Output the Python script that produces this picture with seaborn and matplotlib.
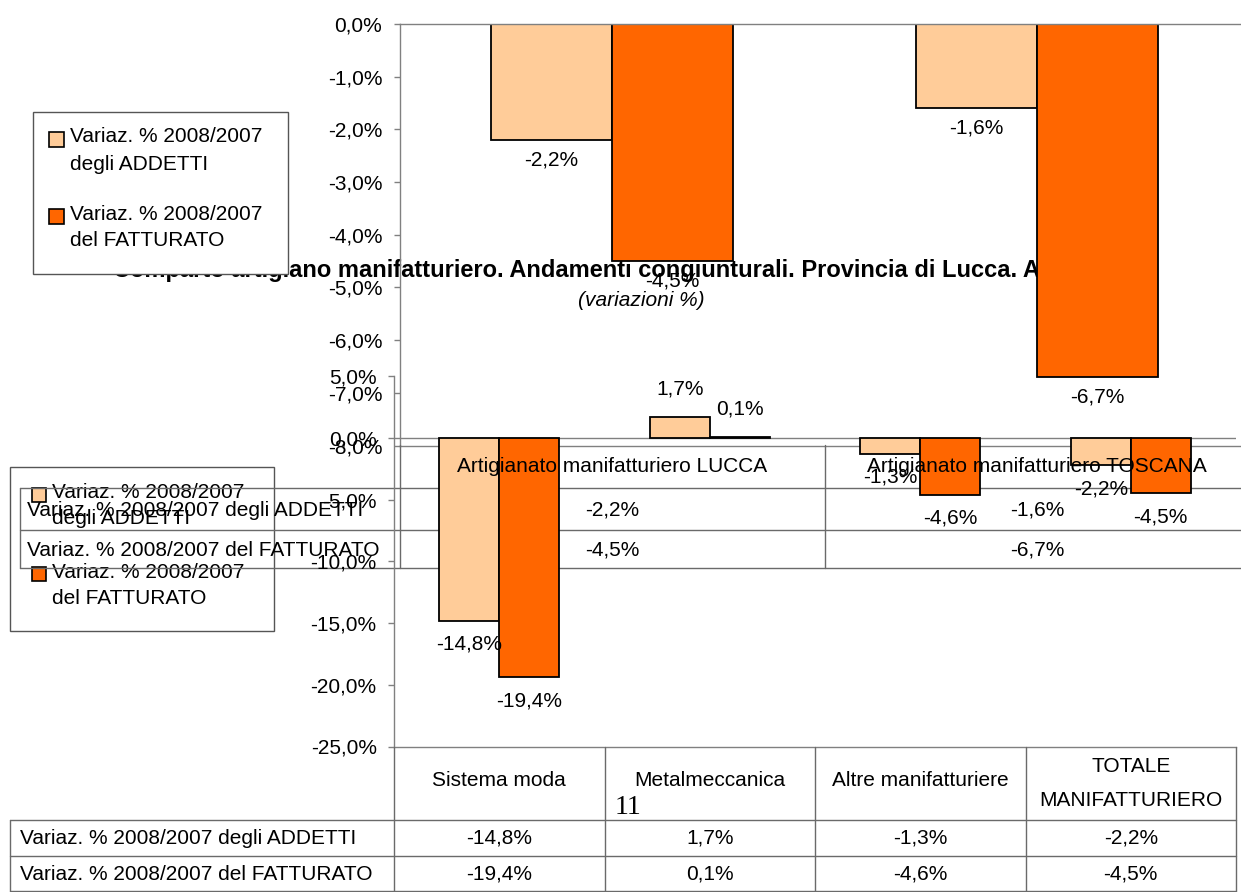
import matplotlib
matplotlib.use("Agg")
import matplotlib.pyplot as plt
import numpy as np
import pandas as pd
import seaborn as sns
from matplotlib.patches import Rectangle
from matplotlib.lines import Line2D

# ---------------- data ----------------
series = ["Variaz. % 2008/2007 degli ADDETTI", "Variaz. % 2008/2007 del FATTURATO"]
legend_labels = ["Variaz. % 2008/2007\ndegli ADDETTI", "Variaz. % 2008/2007\ndel FATTURATO"]

areas = ["Artigianato manifatturiero LUCCA", "Artigianato manifatturiero TOSCANA"]
areas_addetti = [-2.2, -1.6]
areas_fatturato = [-4.5, -6.7]

sectors = ["Sistema moda", "Metalmeccanica", "Altre manifatturiere", "TOTALE\nMANIFATTURIERO"]
sectors_addetti = [-14.8, 1.7, -1.3, -2.2]
sectors_fatturato = [-19.4, 0.1, -4.6, -4.5]

ticks_a = [0, -1, -2, -3, -4, -5, -6, -7, -8]
ticks_b = [5, 0, -5, -10, -15, -20, -25]

title = "Comparto artigiano manifatturiero. Andamenti congiunturali. Provincia di Lucca. Anno 2008"
subtitle = "(variazioni %)"
page_number = "11"

colors = ["#FFCC99", "#FF6600"]

# ---------------- style ----------------
sns.set_style("white")
plt.rcParams["font.family"] = ["Liberation Sans", "DejaVu Sans"]
plt.rcParams["text.color"] = "black"
plt.rcParams["axes.labelcolor"] = "black"
plt.rcParams["xtick.color"] = "black"
plt.rcParams["ytick.color"] = "black"
FS = 15
GRID = "#6a6a6a"
AXC = "#808080"

W, H = 1241, 892
fig = plt.figure(figsize=(W / 100, H / 100), dpi=100)
fig.patch.set_facecolor("white")


def fmt(v):
    v = round(v, 1)
    if v == 0:
        v = 0.0
    return f"{v:.1f}".replace(".", ",") + "%"


def px_axes(l, t, r, b, z):
    return fig.add_axes([l / W, 1 - b / H, (r - l) / W, (b - t) / H], zorder=z)


def overlay(z):
    ax = fig.add_axes([0, 0, 1, 1], zorder=z)
    ax.set_xlim(0, W)
    ax.set_ylim(H, 0)
    ax.axis("off")
    ax.patch.set_alpha(0)
    return ax


def hline(ax, y, x0, x1, color=GRID, lw=1.0):
    ax.add_line(Line2D([x0, x1], [y, y], color=color, lw=lw, clip_on=False))


def vline(ax, x, y0, y1, color=GRID, lw=1.0):
    ax.add_line(Line2D([x, x], [y0, y1], color=color, lw=lw, clip_on=False))


def legend(ax, box, sq_x, sq_tops, sq, text_x, line_ys, fill):
    x0, y0, x1, y1 = box
    ax.add_patch(Rectangle((x0, y0), x1 - x0, y1 - y0, facecolor=fill,
                           edgecolor="#555555", lw=1.0, clip_on=False))
    for i, lab in enumerate(legend_labels):
        ax.add_patch(Rectangle((sq_x, sq_tops[i]), sq, sq, facecolor=colors[i],
                               edgecolor="black", lw=1.2, clip_on=False))
        for j, line in enumerate(lab.split("\n")):
            ax.text(text_x, line_ys[i][j], line, fontsize=FS, ha="left", va="center")


def bars(ax, cats, v1, v2):
    df = pd.DataFrame({
        "cat": cats + cats,
        "series": [series[0]] * len(cats) + [series[1]] * len(cats),
        "val": v1 + v2,
    })
    sns.barplot(data=df, x="cat", y="val", hue="series", order=cats,
                hue_order=series, palette=colors, saturation=1, width=0.57,
                gap=0, edgecolor="black", linewidth=1.3, errorbar=None,
                legend=False, ax=ax)
    ax.set_xlabel("")
    ax.set_ylabel("")
    ax.set_xlim(-0.5, len(cats) - 0.5)
    ax.tick_params(axis="x", bottom=False, labelbottom=False)
    ax.tick_params(axis="y", left=True, direction="out", length=4.5, width=1,
                   color=AXC, labelcolor="black", pad=8, labelsize=FS)
    ax.set_facecolor("none")
    ax.grid(False)


# ---------------- layer 0: chart B title + legend B ----------------
ov0 = overlay(0.1)
ov0.text(113, 271, title, fontsize=17, fontweight="bold", ha="left", va="center")
ov0.text(641, 300, subtitle, fontsize=FS, fontstyle="italic", ha="center", va="center")
legend(ov0, (10, 467, 274, 631), 32, [488, 567], 14, 52,
       [[493, 518], [573, 598]], "none")

# ---------------- layer 1: legend A (white) ----------------
ov1 = overlay(0.3)
legend(ov1, (33, 112, 288, 274), 49, [132, 209], 15, 70,
       [[137, 164], [214, 241]], "white")

# ---------------- chart A axes ----------------
axA = px_axes(399.5, 24, 1249.5, 445.5, 0.5)
bars(axA, areas, areas_addetti, areas_fatturato)
axA.set_ylim(-8, 0)
axA.set_yticks(ticks_a)
axA.set_yticklabels([fmt(t) for t in ticks_a])
for s in ["left", "top", "bottom"]:
    axA.spines[s].set_visible(True)
    axA.spines[s].set_color(AXC)
    axA.spines[s].set_linewidth(1.0)
axA.spines["right"].set_visible(False)
for p in axA.patches:
    cx = p.get_x() + p.get_width() / 2
    v = p.get_y() + p.get_height()
    axA.annotate(fmt(v), (cx, v), xytext=(0, -14.5 if v < 0 else 14.5),
                 textcoords="offset points", ha="center", va="center", fontsize=FS)

# ---------------- layer: chart A table lines ----------------
ov2 = overlay(0.6)
for y in [488, 530, 568]:
    hline(ov2, y, 20, W)
vline(ov2, 399.5, 445, 568)
vline(ov2, 824.5, 445, 568)
vline(ov2, 20, 488, 568)

# ---------------- chart B axes ----------------
axB = px_axes(394, 376, 1236, 746.5, 1.0)
bars(axB, sectors, sectors_addetti, sectors_fatturato)
axB.set_ylim(-25, 5)
axB.set_yticks(ticks_b)
axB.set_yticklabels([fmt(t) for t in ticks_b])
for s in ["top", "right"]:
    axB.spines[s].set_visible(False)
for s in ["left", "bottom"]:
    axB.spines[s].set_visible(True)
    axB.spines[s].set_color(AXC)
    axB.spines[s].set_linewidth(1.0)
axB.axhline(0, color=AXC, lw=1.0, zorder=0.5)
for p in axB.patches:
    cx = p.get_x() + p.get_width() / 2
    v = p.get_y() + p.get_height()
    axB.annotate(fmt(v), (cx, v), xytext=(0, -17 if v < 0 else 20),
                 textcoords="offset points", ha="center", va="center", fontsize=FS)

# ---------------- top layer: tables text ----------------
ov3 = overlay(2.0)
# chart A table text
a_centers = [399.5 + 425 * (i + 0.5) for i in range(len(areas))]
for i, name in enumerate(areas):
    ov3.text(a_centers[i], 466, name, fontsize=FS, ha="center", va="center")
    ov3.text(a_centers[i], 510, fmt(areas_addetti[i]), fontsize=FS, ha="center", va="center")
    ov3.text(a_centers[i], 550, fmt(areas_fatturato[i]), fontsize=FS, ha="center", va="center")
ov3.text(27, 511, series[0], fontsize=FS, ha="left", va="center")
ov3.text(27, 550, series[1], fontsize=FS, ha="left", va="center")

# chart B table
colw = 842 / len(sectors)
b_edges = [394 + colw * i for i in range(len(sectors) + 1)]
for x in b_edges:
    vline(ov3, x, 746.5, 891)
vline(ov3, 10, 820, 891)
for y in [820, 856, 891]:
    hline(ov3, y, 10, 1236)
for i, name in enumerate(sectors):
    cx = (b_edges[i] + b_edges[i + 1]) / 2
    lines = name.split("\n")
    if len(lines) == 1:
        ov3.text(cx, 781, lines[0], fontsize=FS, ha="center", va="center")
    else:
        ov3.text(cx, 767, lines[0], fontsize=FS, ha="center", va="center")
        ov3.text(cx, 800, lines[1], fontsize=FS, ha="center", va="center")
    ov3.text(cx, 838, fmt(sectors_addetti[i]), fontsize=FS, ha="center", va="center")
    ov3.text(cx, 874, fmt(sectors_fatturato[i]), fontsize=FS, ha="center", va="center")
ov3.text(20, 838, series[0], fontsize=FS, ha="left", va="center")
ov3.text(20, 874, series[1], fontsize=FS, ha="left", va="center")

ov3.text(628, 808, page_number, fontsize=20, ha="center", va="center",
         family=["Liberation Serif", "DejaVu Serif"])

fig.savefig("out.png", dpi=100, facecolor="white")
